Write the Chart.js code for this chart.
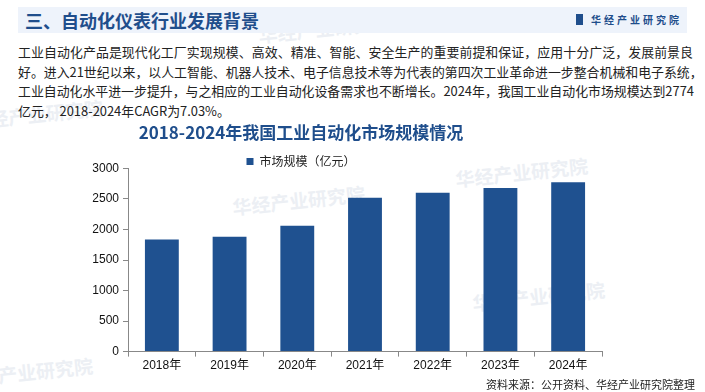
<!DOCTYPE html>
<html lang="zh">
<head>
<meta charset="UTF-8">
<title>2018-2024年我国工业自动化市场规模情况</title>
<script src="https://cdn.jsdelivr.net/npm/chart.js"></script>
<style>
  body { margin: 0; width: 705px; height: 392px; background: #fff; position: relative; overflow: hidden;
         font-family: "Noto Sans CJK SC", "Noto Sans", sans-serif; }
  .head { position: absolute; left: 18px; top: 7px; width: 669px; height: 26px; background: #eef3fb; }
  .head h1 { position: absolute; left: 7px; top: 0; margin: 0; font-size: 18px; line-height: 26px; color: #1f4e8c; font-weight: bold; }
  .logo { position: absolute; left: 558px; top: 0; line-height: 26px; font-size: 10px; letter-spacing: 3px; color: #1f4e8c; font-weight: bold; }
  .logo i { display: inline-block; width: 7px; height: 11px; background: #1f4e8c; margin-right: 8px; vertical-align: -1px; }
  .para { position: absolute; left: 18px; top: 42px; width: 675px; font-size: 12.9px; line-height: 19.7px; color: #222; }
  .para div { text-align: justify; text-align-last: justify; white-space: nowrap; }
  .para div.last { text-align-last: left; }
  .src { position: absolute; left: 486px; top: 376px; font-size: 11px; color: #222; }
  .wm { position: absolute; font-size: 19px; font-weight: bold; color: #eceff4; transform: rotate(-6deg); white-space: nowrap; }
  #wrap { position: absolute; left: 0; top: 118px; width: 705px; height: 274px; }
</style>
</head>
<body>
<div class="wm" style="left:258px;top:14px">华经产业研究院</div>
<div class="wm" style="left:-30px;top:100px">华经产业研究院</div>
<div class="wm" style="left:232px;top:186px">华经产业研究院</div>
<div class="wm" style="left:455px;top:158px">华经产业研究院</div>
<div class="wm" style="left:472px;top:282px">华经产业研究院</div>
<div class="wm" style="left:-40px;top:358px">华经产业研究院</div>
<div class="head"><h1>三、自动化仪表行业发展背景</h1><div class="logo"><i></i>华经产业研究院</div></div>
<div class="para">
  <div>工业自动化产品是现代化工厂实现规模、高效、精准、智能、安全生产的重要前提和保证，应用十分广泛，发展前景良</div>
  <div>好。进入21世纪以来，以人工智能、机器人技术、电子信息技术等为代表的第四次工业革命进一步整合机械和电子系统，</div>
  <div>工业自动化水平进一步提升，与之相应的工业自动化设备需求也不断增长。2024年，我国工业自动化市场规模达到2774</div>
  <div class="last">亿元， 2018-2024年CAGR为7.03%。</div>
</div>
<div id="wrap"><canvas id="c"></canvas></div>
<div class="src">资料来源：公开资料、华经产业研究院整理</div>
<script>
const years = ['2018年', '2019年', '2020年', '2021年', '2022年', '2023年', '2024年'];
const marketSize = [1835, 1880, 2060, 2520, 2600, 2680, 2774];
const seriesName = '市场规模（亿元）';
const chartTitle = '2018-2024年我国工业自动化市场规模情况';

const tickFont = { family: '"Liberation Sans", "Noto Sans CJK SC", sans-serif', size: 12 };

// legend reserves extra space below itself, trim it so the plot starts right below
const tightLegend = {
  id: 'tightLegend',
  afterInit(chart) {
    const fit = chart.legend.fit;
    chart.legend.fit = function () { fit.call(this); this.height -= 9; };
  }
};

new Chart(document.getElementById('c'), {
  type: 'bar',
  data: {
    labels: years,
    datasets: [{
      label: seriesName,
      data: marketSize,
      backgroundColor: '#1f5190',
      categoryPercentage: 1,
      barPercentage: 0.5
    }]
  },
  options: {
    responsive: true,
    maintainAspectRatio: false,
    animation: false,
    layout: { padding: { left: 0, right: 103, top: 4, bottom: 17 } },
    plugins: {
      title: {
        display: true,
        text: chartTitle,
        color: '#1f4e8c',
        font: { family: '"Noto Sans CJK SC", sans-serif', size: 17, weight: 'bold' },
        padding: { top: 0, bottom: 12 }
      },
      legend: {
        labels: {
          boxWidth: 7, boxHeight: 7, color: '#222', padding: 1,
          font: { family: '"Noto Sans CJK SC", sans-serif', size: 12 }
        }
      },
      tooltip: { enabled: false }
    },
    scales: {
      x: {
        grid: { drawOnChartArea: false, offset: true, color: '#888', tickLength: 5 },
        border: { color: '#888' },
        ticks: { color: '#111', font: tickFont, padding: 2 }
      },
      y: {
        min: 0, max: 3000,
        ticks: { stepSize: 500, color: '#111', font: tickFont, padding: 4, callback: v => String(v) },
        grid: { drawOnChartArea: false, color: '#888', tickLength: 5 },
        border: { color: '#888' },
        afterFit: s => { s.width = 128; }
      }
    }
  },
  plugins: [tightLegend]
});
</script>
</body>
</html>
